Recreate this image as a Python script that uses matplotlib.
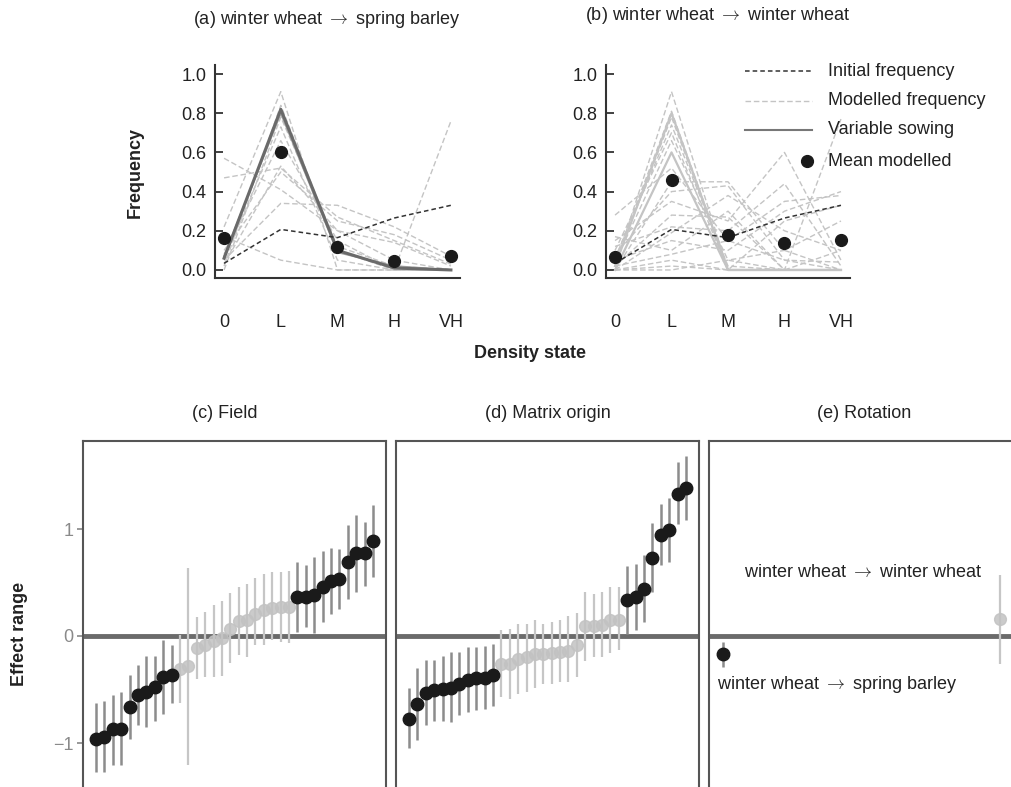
import matplotlib
matplotlib.use("Agg")
import matplotlib.pyplot as plt
from matplotlib.lines import Line2D
import numpy as np

plt.rcParams['font.family'] = ['Liberation Sans', 'DejaVu Sans']
plt.rcParams['font.size'] = 13
plt.rcParams['mathtext.fontset'] = 'cm'

W, H = 1012, 787
ARROW = r'$\rightarrow$'

# ---------------- data ----------------
states = ['0', 'L', 'M', 'H', 'VH']

initial_freq = [0.034, 0.207, 0.165, 0.265, 0.33]

a_modelled = [
    [0.57, 0.41, 0.20, 0.05, 0.00],
    [0.47, 0.52, 0.27, 0.15, 0.03],
    [0.22, 0.91, 0.00, 0.00, 0.00],
    [0.05, 0.34, 0.33, 0.22, 0.07],
    [0.17, 0.05, 0.00, 0.00, 0.00],
    [0.00, 0.78, 0.12, 0.02, 0.00],
    [0.03, 0.53, 0.20, 0.14, 0.02],
    [0.10, 0.50, 0.25, 0.18, 0.05],
    [0.06, 0.73, 0.05, 0.00, 0.00],
    [0.08, 0.66, 0.15, 0.00, 0.76],
    [0.02, 0.84, 0.10, 0.00, 0.00],
]
a_variable = [[0.07, 0.80, 0.09, 0.02, 0.00],
              [0.06, 0.82, 0.10, 0.01, 0.00]]
a_mean = [0.163, 0.60, 0.118, 0.046, 0.071]

b_modelled = [
    [0.02, 0.91, 0.00, 0.00, 0.00],
    [0.05, 0.81, 0.00, 0.00, 0.00],
    [0.03, 0.78, 0.00, 0.00, 0.00],
    [0.06, 0.74, 0.02, 0.00, 0.00],
    [0.10, 0.70, 0.00, 0.00, 0.00],
    [0.04, 0.66, 0.05, 0.00, 0.00],
    [0.28, 0.52, 0.15, 0.05, 0.00],
    [0.00, 0.45, 0.45, 0.10, 0.00],
    [0.08, 0.40, 0.43, 0.05, 0.04],
    [0.15, 0.35, 0.25, 0.60, 0.05],
    [0.02, 0.28, 0.27, 0.00, 0.77],
    [0.12, 0.22, 0.20, 0.44, 0.02],
    [0.00, 0.19, 0.38, 0.20, 0.10],
    [0.05, 0.15, 0.10, 0.30, 0.40],
    [0.02, 0.08, 0.15, 0.35, 0.38],
    [0.00, 0.05, 0.00, 0.25, 0.33],
    [0.00, 0.00, 0.05, 0.10, 0.25],
    [0.17, 0.10, 0.30, 0.00, 0.10],
    [0.00, 0.02, 0.00, 0.00, 0.00],
]
b_variable = [[0.00, 0.60, 0.00, 0.00, 0.00],
              [0.02, 0.80, 0.00, 0.00, 0.00]]
b_mean = [0.068, 0.46, 0.18, 0.136, 0.151]

field_est = [-0.96, -0.94, -0.87, -0.865, -0.66, -0.55, -0.52, -0.48, -0.38, -0.36,
             -0.31, -0.285, -0.11, -0.08, -0.047, -0.019, 0.068, 0.14, 0.153, 0.209,
             0.24, 0.26, 0.27, 0.27, 0.364, 0.364, 0.38, 0.458, 0.511, 0.53,
             0.69, 0.776, 0.776, 0.885]
field_hi = [-0.63, -0.61, -0.55, -0.52, -0.36, -0.27, -0.19, -0.19, -0.04, -0.087,
            0.006, 0.636, 0.18, 0.22, 0.29, 0.33, 0.40, 0.46, 0.49, 0.545,
            0.58, 0.60, 0.60, 0.607, 0.69, 0.66, 0.74, 0.79, 0.82, 0.81,
            1.04, 1.13, 1.065, 1.22]
field_lo = [-1.27, -1.27, -1.21, -1.21, -0.96, -0.83, -0.85, -0.79, -0.73, -0.63,
            -0.63, -1.21, -0.40, -0.38, -0.38, -0.37, -0.25, -0.18, -0.20, -0.087,
            -0.087, -0.04, -0.056, -0.07, 0.037, 0.084, 0.03, 0.13, 0.21, 0.255,
            0.35, 0.41, 0.47, 0.55]
field_sig = [1] * 10 + [0] * 14 + [1] * 10

matrix_est = [-0.773, -0.639, -0.533, -0.502, -0.492, -0.483, -0.452, -0.408, -0.389, -0.389,
              -0.368, -0.259, -0.259, -0.212, -0.196, -0.165, -0.165, -0.159, -0.150, -0.140,
              -0.087, 0.093, 0.093, 0.100, 0.153, 0.153, 0.333, 0.364, 0.442, 0.729,
              0.941, 0.988, 1.330, 1.383]
matrix_hi = [-0.49, -0.30, -0.22, -0.22, -0.19, -0.15, -0.15, -0.10, -0.10, -0.097,
             -0.078, 0.06, 0.07, 0.11, 0.115, 0.15, 0.115, 0.13, 0.15, 0.19,
             0.215, 0.41, 0.39, 0.41, 0.46, 0.46, 0.65, 0.676, 0.754, 1.056,
             1.23, 1.29, 1.626, 1.68]
matrix_lo = [-1.05, -0.975, -0.835, -0.79, -0.79, -0.80, -0.74, -0.71, -0.695, -0.68,
             -0.657, -0.57, -0.585, -0.54, -0.52, -0.49, -0.445, -0.445, -0.43, -0.43,
             -0.38, -0.23, -0.196, -0.196, -0.16, -0.134, 0.016, 0.059, 0.13, 0.41,
             0.66, 0.69, 1.05, 1.087]
matrix_sig = [1] * 11 + [0] * 15 + [1] * 8

rotation_labels = ['winter wheat ' + ARROW + ' spring barley', 'winter wheat ' + ARROW + ' winter wheat']
rotation_est = [-0.171, 0.156]
rotation_hi = [-0.056, 0.567]
rotation_lo = [-0.29, -0.259]
rotation_sig = [1, 0]

# ---------------- figure ----------------
fig = plt.figure(figsize=(W / 100, H / 100), dpi=100)


def px_axes(left, right, top, bottom):
    return fig.add_axes([left / W, (H - bottom) / H, (right - left) / W, (bottom - top) / H])


AX_COL = '#333333'


def top_panel(ax, modelled, variable, mean, var_colors, var_widths):
    x = np.arange(len(states))
    for row in modelled:
        ax.plot(x, row, color='#c4c4c4', lw=1.0, ls=(0, (4, 2)), zorder=2)
    for row, c, w in zip(variable, var_colors, var_widths):
        ax.plot(x, row, color=c, lw=w, ls='-', zorder=3)
    ax.plot(x, initial_freq, color='#333333', lw=1.1, ls=(0, (3, 2)), zorder=4)
    ax.plot(x, mean, ls='none', marker='o', ms=8.5, color='#1a1a1a', zorder=5)
    ax.set_xlim(-0.16, 4.16)
    ax.set_ylim(-0.041, 1.046)
    ax.set_yticks([0, 0.2, 0.4, 0.6, 0.8, 1.0])
    ax.set_yticklabels(['0.0', '0.2', '0.4', '0.6', '0.8', '1.0'])
    ax.set_xticks(x)
    ax.set_xticklabels(states)
    for s in ['top', 'right']:
        ax.spines[s].set_visible(False)
    for s in ['left', 'bottom']:
        ax.spines[s].set_color(AX_COL)
        ax.spines[s].set_linewidth(1.5)
    ax.tick_params(axis='y', direction='in', length=6, width=1.3, color=AX_COL,
                   labelcolor='#222222', pad=6, labelsize=13)
    ax.tick_params(axis='x', length=0, pad=26, labelcolor='#222222', labelsize=13)
    ax.patch.set_alpha(0)


ax_a = px_axes(215, 460, 65, 278)
top_panel(ax_a, a_modelled, a_variable, a_mean, ['#a0a0a0', '#6a6a6a'], [1.3, 2.2])
ax_b = px_axes(606, 850, 65, 278)
top_panel(ax_b, b_modelled, b_variable, b_mean, ['#c4c4c4', '#c4c4c4'], [1.6, 1.6])

fig.text(327 / W, 1 - 20 / H, '(a) winter wheat ' + ARROW + ' spring barley', ha='center', va='center',
         fontsize=13, color='#222222')
fig.text(718 / W, 1 - 15 / H, '(b) winter wheat ' + ARROW + ' winter wheat', ha='center', va='center',
         fontsize=13, color='#222222')
fig.text(135 / W, 1 - 172 / H, 'Frequency', rotation=90, ha='center', va='center',
         fontsize=13, fontweight='bold', color='#222222')
fig.text(530 / W, 1 - 353 / H, 'Density state', ha='center', va='center',
         fontsize=13, fontweight='bold', color='#222222')

# legend (panel b)
leg_items = [
    ('Initial frequency', dict(color='#333333', lw=1.1, ls=(0, (3, 2)))),
    ('Modelled frequency', dict(color='#c4c4c4', lw=1.0, ls=(0, (4, 2)))),
    ('Variable sowing', dict(color='#777777', lw=1.5, ls='-')),
]
for i, (lab, st) in enumerate(leg_items):
    yy = 71 + i * 29.5
    fig.add_artist(Line2D([745 / W, 812 / W], [1 - yy / H, 1 - yy / H], transform=fig.transFigure, **st))
    fig.text(828 / W, 1 - yy / H, lab, ha='left', va='center', fontsize=13, color='#222222')
fig.add_artist(Line2D([807 / W], [1 - 161 / H], transform=fig.transFigure, ls='none', marker='o',
                      ms=8.5, color='#1a1a1a'))
fig.text(828 / W, 1 - 161 / H, 'Mean modelled', ha='left', va='center', fontsize=13, color='#222222')

# ---------------- lower panels ----------------
YTOP = (636 - 441) / 107
YBOT = -(800 - 636) / 107
BLACK_BAR = '#8c8c8c'
GREY_BAR = '#c6c6c6'


def lower_panel(ax, est, lo, hi, sig, xlim):
    x = np.arange(1, len(est) + 1)
    est = np.asarray(est); lo = np.asarray(lo); hi = np.asarray(hi); sig = np.asarray(sig, bool)
    ax.axhline(0, color='#6b6b6b', lw=3.5, zorder=1)
    ax.vlines(x[~sig], lo[~sig], hi[~sig], color=GREY_BAR, lw=1.6, zorder=2)
    ax.vlines(x[sig], lo[sig], hi[sig], color=BLACK_BAR, lw=1.8, zorder=2)
    ax.plot(x[~sig], est[~sig], ls='none', marker='o', ms=8.5, color='#c2c2c2', alpha=0.85, zorder=3)
    ax.plot(x[sig], est[sig], ls='none', marker='o', ms=9, color='#1a1a1a', zorder=4)
    ax.set_xlim(*xlim)
    ax.set_ylim(YBOT, YTOP)
    ax.set_xticks([])
    for s in ax.spines.values():
        s.set_color('#555555')
        s.set_linewidth(1.5)


ax_c = px_axes(83, 386, 441, 800)
lower_panel(ax_c, field_est, field_lo, field_hi, field_sig, (-0.55, 35.55))
ax_c.set_yticks([-1, 0, 1])
ax_c.set_yticklabels(['\u22121', '0', '1'])
ax_c.tick_params(axis='y', direction='out', length=4, width=1.2, color='#888888',
                 labelcolor='#8a8a8a', labelsize=13, pad=3)

ax_d = px_axes(396, 699, 441, 800)
lower_panel(ax_d, matrix_est, matrix_lo, matrix_hi, matrix_sig, (-0.55, 35.55))
ax_d.set_yticks([])

ax_e = px_axes(709, 1014, 441, 800)
lower_panel(ax_e, rotation_est, rotation_lo, rotation_hi, rotation_sig, (0.95, 2.05))
ax_e.set_yticks([])
ax_e.text(1.935, 0.59, rotation_labels[1], ha='right', va='center', fontsize=13, color='#222222')
ax_e.text(0.979, -0.45, rotation_labels[0], ha='left', va='center', fontsize=13, color='#222222')

fig.text(225 / W, 1 - 413 / H, '(c) Field', ha='center', va='center', fontsize=13, color='#222222')
fig.text(548 / W, 1 - 413 / H, '(d) Matrix origin', ha='center', va='center', fontsize=13, color='#222222')
fig.text(864 / W, 1 - 413 / H, '(e) Rotation', ha='center', va='center', fontsize=13, color='#222222')
fig.text(20 / W, 1 - 634 / H, 'Effect range', rotation=90, ha='center', va='center',
         fontsize=13, fontweight='bold', color='#222222')

fig.savefig('out.png', dpi=100)
